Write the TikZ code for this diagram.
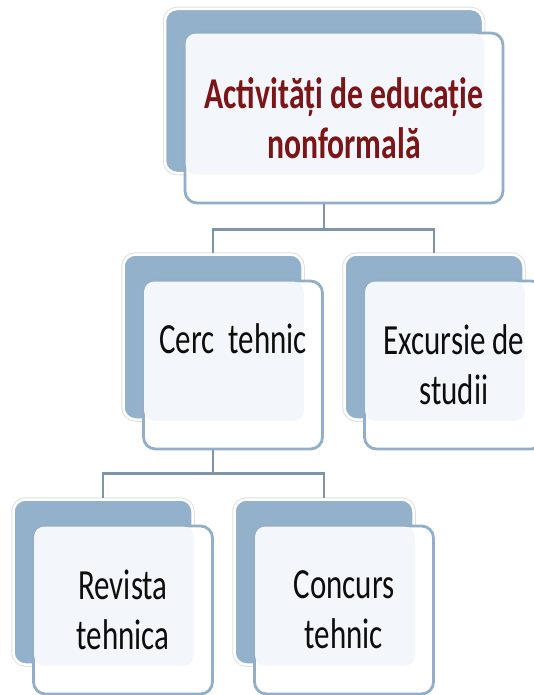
\documentclass[tikz,border=0pt]{standalone}
\usepackage{fontspec}
\setmainfont{Carlito}[FakeStretch=0.72]
\usetikzlibrary{positioning}
\definecolor{backblue}{HTML}{93B1CB}
\definecolor{edgeblue}{HTML}{92AEC8}
\definecolor{paleblue}{HTML}{F3F7FB}
\definecolor{linkblue}{HTML}{7D94A9}
\definecolor{titlered}{HTML}{7A1518}

\begin{document}
\begin{tikzpicture}[x=1pt, y=-1pt,
   backbox/.style = {rectangle, rounded corners=12pt, fill=backblue, draw=white, line width=2.5pt,
                     preaction={draw=black!12, line width=4.5pt},
                     minimum width=179pt, minimum height=165pt, inner sep=0pt},
   frontbox/.style = {rectangle, rounded corners=12pt, fill=white, draw=edgeblue, line width=2.8pt,
                      minimum width=179pt, minimum height=168pt, inner sep=0pt},
   link/.style = {draw=linkblue, line width=2.8pt},
   boxtext/.style = {align=center, inner sep=0pt, font=\fontsize{43}{50}\selectfont, text=black!95}]
\useasboundingbox (0,0) rectangle (534,695);
\clip (0,0) rectangle (534,695);

% title box
\node[backbox, minimum width=318pt, minimum height=164pt] (topback) at (324,91) {};
\node[frontbox, minimum width=318pt, minimum height=170pt] (topfront) at ([shift={(20,27)}]topback.center) {};
\fill[paleblue, rounded corners=10pt] ([shift={(2,2)}]topfront.north west) rectangle (topback.south east);
\node[boxtext, font=\fontsize{44}{50}\selectfont\bfseries, text=titlered] (toptext) at (topfront.center)
   {Activități de educație\\nonformală};

% the four boxes below
\foreach \n/\x/\y in {cerc/213/337, exc/434/337, rev/103/582, conc/324/582}{
   \node[backbox] (\n back) at (\x,\y) {};
   \node[frontbox] (\n front) at ([shift={(20,28)}]\n back.center) {};
   \fill[paleblue, rounded corners=10pt] ([shift={(2,2)}]\n front.north west) rectangle (\n back.south east);
   }

\node[boxtext, anchor=base] (cerctext) at ([yshift=12pt]cercfront.center) {Cerc\ \ tehnic};
\node[boxtext] (exctext) at (excfront.center) {Excursie de\\studii};
\node[boxtext] (revtext) at (revfront.center) {Revista\\tehnica};
\node[boxtext] (conctext) at (concfront.center) {Concurs\\tehnic};

% connectors
\draw[link] (topback.south |- topfront.south) -- ++(0,25) coordinate (topjoin) -| (cercback.north);
\draw[link] (topjoin) -| (excback.north);
\draw[link] (cercback.south |- cercfront.south) -- ++(0,23) coordinate (cercjoin) -| (revback.north);
\draw[link] (cercjoin) -| (concback.north);
\end{tikzpicture}
\end{document}
